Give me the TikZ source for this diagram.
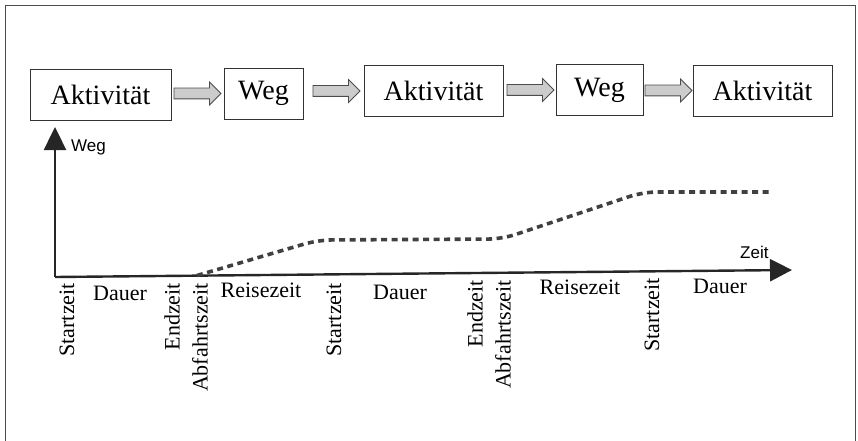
\documentclass[tikz,border=0pt]{standalone}
\usepackage{fontspec}
\setmainfont{Liberation Serif}
\setsansfont{Liberation Sans}
\usetikzlibrary{shapes.arrows,arrows.meta,calc}
\tikzset{
  actbox/.style={draw=black!80, line width=0.9pt, minimum height=51pt, inner sep=0pt, font=\fontsize{28}{30}\selectfont},
  blockarrow/.style={single arrow, draw=black!70, fill=gray!40, line width=0.8pt,
     minimum height=47pt, minimum width=22pt, single arrow head extend=6pt,
     single arrow head indent=0pt, inner xsep=0pt, inner ysep=5pt, shape border rotate=0},
  axis/.style={line width=2.4pt, black!85},
  tlabel/.style={font=\fontsize{22}{24}\selectfont, inner sep=0pt},
  vlabel/.style={tlabel, rotate=90, anchor=east},
  alabel/.style={font=\sffamily\fontsize{17}{19}\selectfont, inner sep=0pt},
  pathline/.style={line width=3.6pt, black!75, dash pattern=on 6pt off 4.5pt, rounded corners=14pt},
  frame/.style={line width=0.8pt, black!70}
}
\begin{document}
\begin{tikzpicture}[x=1pt,y=-1pt]
\useasboundingbox (0,0) rectangle (858,441);
% frame (open at bottom)
\draw[frame] (5,441) -- (5,5) -- (855,5) -- (855,441);
% activity chain
\node[actbox, minimum width=141pt] (b1) at (100.5,95) {Aktivität};
\node[actbox, minimum width=79pt]  (b2) at (263.5,93.5) {Weg};
\node[actbox, minimum width=139pt] (b3) at (433.5,91) {Aktivität};
\node[actbox, minimum width=87pt]  (b4) at (599.5,90) {Weg};
\node[actbox, minimum width=139pt] (b5) at (762.5,90.5) {Aktivität};
\path (b1.east) -- (b2.west) node[pos=1, anchor=east, xshift=-2pt, blockarrow] (a1) {};
\path (b2.east) -- (b3.west) node[pos=1, anchor=east, xshift=-3pt, blockarrow] (a2) {};
\path (b3.east) -- (b4.west) node[pos=1, anchor=east, xshift=-1pt, blockarrow] (a3) {};
\path (b4.east) -- (b5.west) node[pos=1, anchor=east, xshift=0pt, blockarrow] (a4) {};
% axes
\coordinate (o) at (55,277);
\coordinate (ytip) at (55,127);
\coordinate (xtip) at (792,270);
\draw[axis, -{Triangle[length=23pt,width=22pt]}] (o) -- (ytip);
\draw[axis, -{Triangle[length=22pt,width=22pt]}] (o) -- (xtip);
\node[alabel, anchor=west] (wl) at (71,147) {Weg};
\node[alabel, anchor=base west] (zl) at (740,258) {Zeit};
% travel path
\coordinate (p0) at (197,275.5);
\coordinate (p1) at (318,240);
\coordinate (p2) at (502,239);
\coordinate (p3) at (643,192);
\coordinate (p4) at (772,192);
\draw[pathline] (p0) -- (p1) -- (p2) -- (p3) -- (p4);
% time labels
\node[vlabel] (s1) at (67,283) {Startzeit};
\node[tlabel, anchor=base] (d1) at (120,300) {Dauer};
\node[vlabel] (e1) at (172,283) {Endzeit};
\node[vlabel] (f1) at (200,283) {Abfahrtszeit};
\node[tlabel, anchor=base] (r1) at (261,297) {Reisezeit};
\node[vlabel] (s2) at (334,283) {Startzeit};
\node[tlabel, anchor=base] (d2) at (400,299) {Dauer};
\node[vlabel] (e2) at (475,280) {Endzeit};
\node[vlabel] (f2) at (503,280) {Abfahrtszeit};
\node[tlabel, anchor=base] (r2) at (580,294) {Reisezeit};
\node[vlabel] (s3) at (652,278) {Startzeit};
\node[tlabel, anchor=base] (d3) at (720,293) {Dauer};
\end{tikzpicture}
\end{document}
